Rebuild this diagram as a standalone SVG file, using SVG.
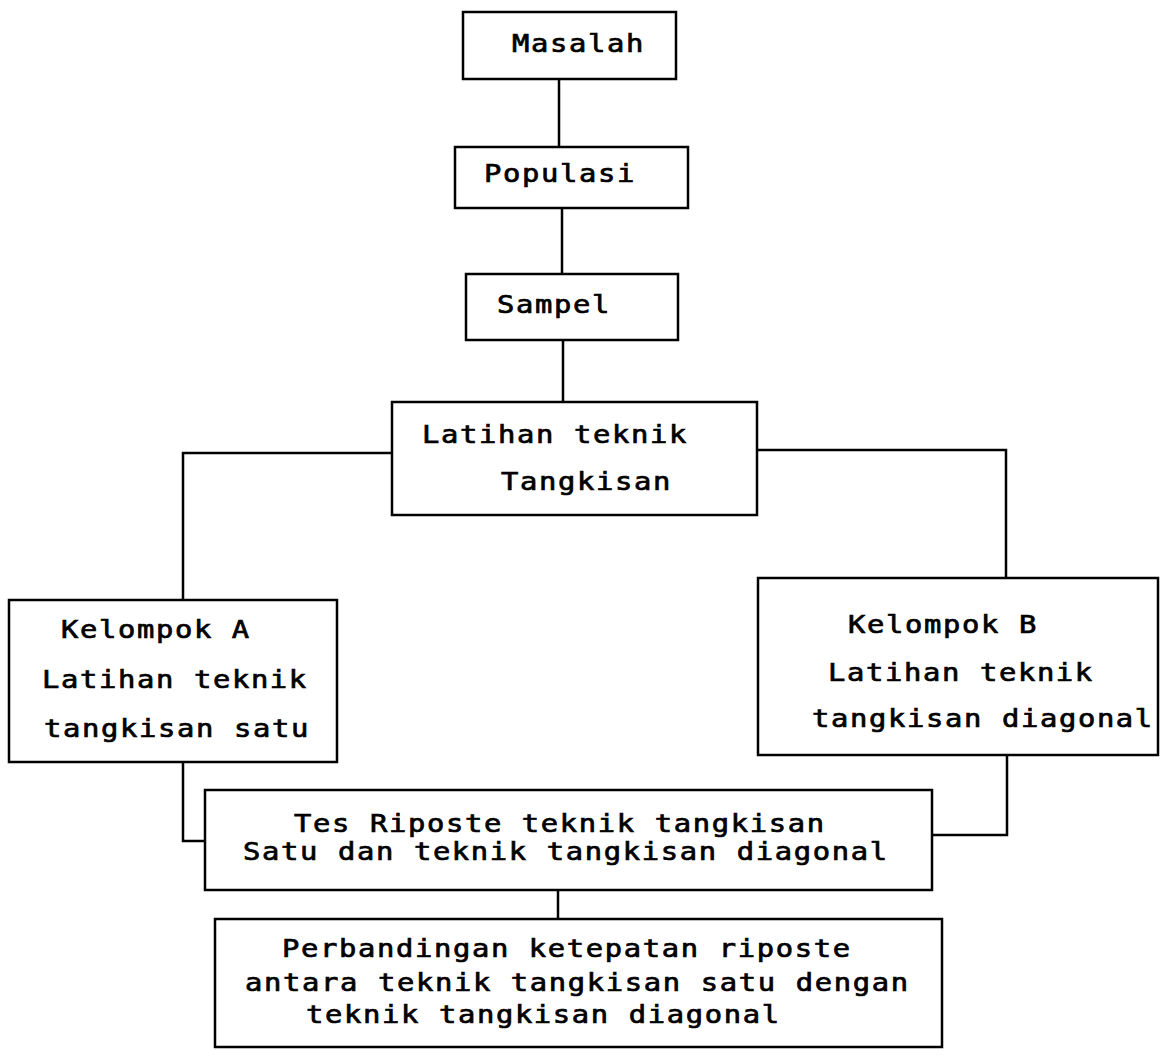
<svg xmlns="http://www.w3.org/2000/svg" width="1160" height="1056" viewBox="0 0 1160 1056">
<style>
.box{fill:#fff;stroke:#000;stroke-width:2.5}
.c{fill:none;stroke:#000;stroke-width:2.5}
.t{font-family:"DejaVu Sans Mono","Liberation Mono",monospace;font-size:24px;letter-spacing:1.38px;font-weight:normal;fill:#000;stroke:#000;stroke-width:0.7}
</style>
<rect width="1160" height="1056" fill="#fff"/>
<g id="connectors">
<path class="c" d="M559 79V147"/>
<path class="c" d="M562 208V274"/>
<path class="c" d="M563 340V402"/>
<path class="c" d="M392 453H183V600"/>
<path class="c" d="M757 450H1006V578"/>
<path class="c" d="M183 762V841H205"/>
<path class="c" d="M1007 755V835H932"/>
<path class="c" d="M558 890V919"/>
</g>
<g id="masalah"><rect class="box" x="463" y="12" width="213" height="67"/><g transform="scale(1.2 1)"><text class="t" x="426.7" y="52">Masalah</text></g></g>
<g id="populasi"><rect class="box" x="455" y="147" width="233" height="61"/><g transform="scale(1.2 1)"><text class="t" x="403.3" y="182">Populasi</text></g></g>
<g id="sampel"><rect class="box" x="466" y="274" width="212" height="66"/><g transform="scale(1.2 1)"><text class="t" x="414.2" y="313">Sampel</text></g></g>
<g id="latihan"><rect class="box" x="392" y="402" width="365" height="113"/><g transform="scale(1.2 1)"><text class="t" x="351.7" y="443">Latihan teknik</text><text class="t" x="417.5" y="490">Tangkisan</text></g></g>
<g id="kelompok-a"><rect class="box" x="9" y="600" width="328" height="162"/><g transform="scale(1.2 1)"><text class="t" x="50.8" y="638">Kelompok A</text><text class="t" x="35" y="688">Latihan teknik</text><text class="t" x="36.7" y="737">tangkisan satu</text></g></g>
<g id="kelompok-b"><rect class="box" x="758" y="578" width="400" height="177"/><g transform="scale(1.2 1)"><text class="t" x="706.7" y="633">Kelompok B</text><text class="t" x="690" y="681">Latihan teknik</text><text class="t" x="676.7" y="727">tangkisan diagonal</text></g></g>
<g id="tes"><rect class="box" x="205" y="790" width="727" height="100"/><g transform="scale(1.2 1)"><text class="t" x="245" y="832">Tes Riposte teknik tangkisan</text><text class="t" x="202.5" y="860">Satu dan teknik tangkisan diagonal</text></g></g>
<g id="perbandingan"><rect class="box" x="215" y="919" width="727" height="128"/><g transform="scale(1.2 1)"><text class="t" x="235" y="957">Perbandingan ketepatan riposte</text><text class="t" x="204.2" y="991">antara teknik tangkisan satu dengan</text><text class="t" x="255" y="1023">teknik tangkisan diagonal</text></g></g>
</svg>
